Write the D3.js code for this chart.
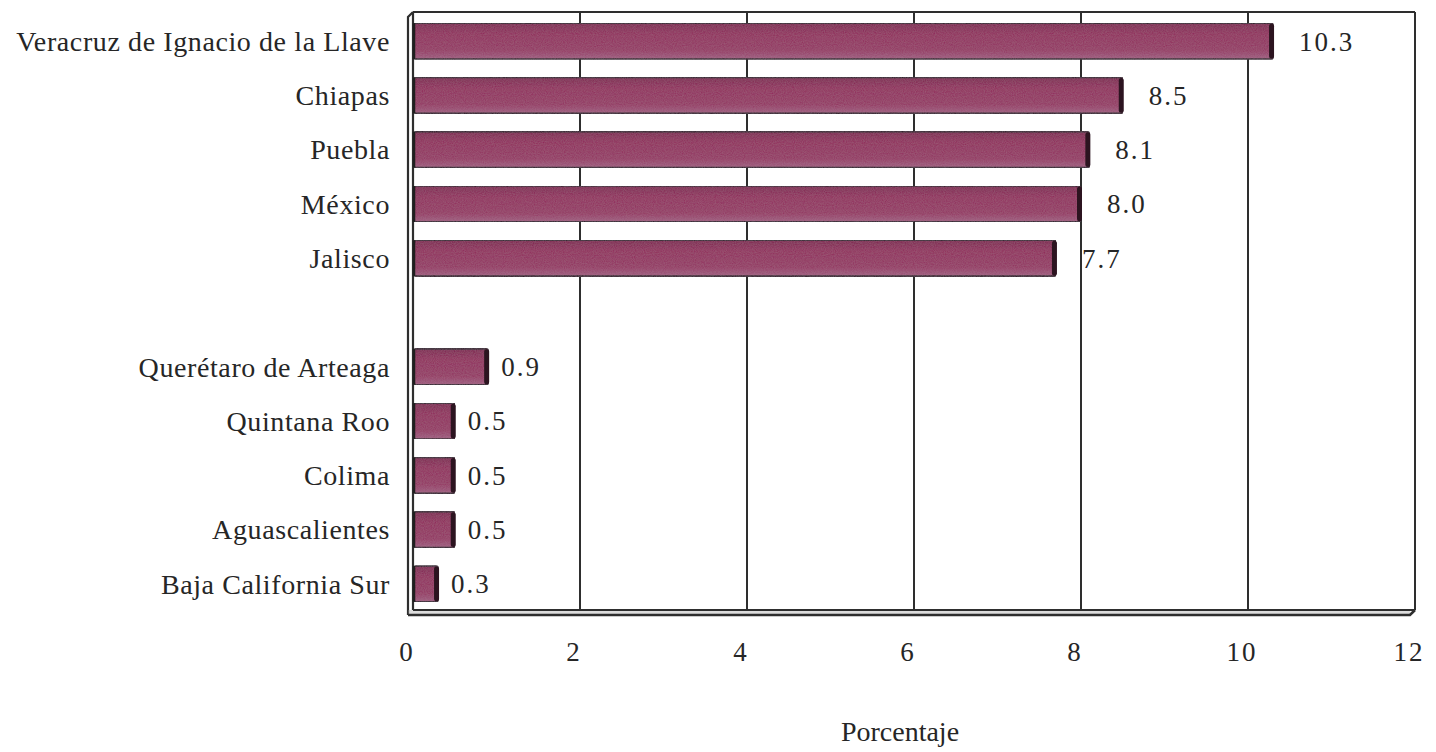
<!DOCTYPE html>
<html>
<head>
<meta charset="utf-8">
<script src="https://cdn.jsdelivr.net/npm/d3@7"></script>
<style>
  html, body { margin: 0; padding: 0; background: #ffffff; }
  svg { display: block; }
  text { font-family: "Liberation Serif", "Times New Roman", serif; fill: #262626; }
</style>
</head>
<body>
<svg id="chart" width="1436" height="752"></svg>
<script>
// Entidades federativas con mayor y menor porcentaje (un hueco separa los dos grupos)
const states = [
  "Veracruz de Ignacio de la Llave", "Chiapas", "Puebla", "México", "Jalisco",
  "",
  "Querétaro de Arteaga", "Quintana Roo", "Colima", "Aguascalientes", "Baja California Sur"
];
const percents = [10.3, 8.5, 8.1, 8.0, 7.7, null, 0.9, 0.5, 0.5, 0.5, 0.3];
const xTicks = [0, 2, 4, 6, 8, 10, 12];
const axisTitle = "Porcentaje";

const svg = d3.select("#chart");
const depth = 5;               // offset of the front edges of the 3D box
const plot = { left: 413, right: 1415, top: 12, bottom: 610 };

const x = d3.scaleLinear().domain([0, 12]).range([plot.left, plot.right]);
const y = d3.scaleBand().domain(states.map((s, i) => i)).range([plot.top + 2, plot.bottom + 1]).paddingInner(0.34).paddingOuter(0.17);

const defs = svg.append("defs");
const grad = defs.append("linearGradient").attr("id", "barFill").attr("x1", 0).attr("y1", 0).attr("x2", 0).attr("y2", 1);
grad.append("stop").attr("offset", "0%").attr("stop-color", "#7c1c4b");
grad.append("stop").attr("offset", "30%").attr("stop-color", "#902859");
grad.append("stop").attr("offset", "75%").attr("stop-color", "#93325f");
grad.append("stop").attr("offset", "100%").attr("stop-color", "#9e5a7c");

// fine print-like grain on the bars
const grain = defs.append("filter").attr("id", "grain").attr("x", 0).attr("y", 0).attr("width", 1).attr("height", 1);
grain.append("feTurbulence").attr("type", "fractalNoise").attr("baseFrequency", 0.9).attr("numOctaves", 2).attr("seed", 3).attr("result", "noise");
grain.append("feColorMatrix").attr("in", "noise").attr("type", "matrix")
  .attr("values", "0 0 0 0 0.55  0 0 0 0 0.45  0 0 0 0 0.55  0 0 0 0.18 0").attr("result", "tint");
grain.append("feComposite").attr("in", "tint").attr("in2", "SourceGraphic").attr("operator", "in").attr("result", "tinted");
grain.append("feMerge").selectAll("feMergeNode").data(["SourceGraphic", "tinted"]).join("feMergeNode").attr("in", d => d);

const line = "#2e2e2e";

// back-wall vertical grid lines
svg.append("g").selectAll("line").data(xTicks.slice(1)).join("line")
  .attr("x1", d => x(d)).attr("x2", d => x(d))
  .attr("y1", plot.top).attr("y2", plot.bottom)
  .attr("stroke", line).attr("stroke-width", 2);

// top edge of the back wall
svg.append("line").attr("x1", plot.left).attr("x2", plot.right).attr("y1", plot.top).attr("y2", plot.top)
  .attr("stroke", line).attr("stroke-width", 2.2);

// left wall (back line, front line, corner)
const frame = svg.append("g").attr("fill", "none").attr("stroke", line).attr("stroke-width", 2.2);
frame.append("line").attr("x1", plot.left).attr("x2", plot.left).attr("y1", plot.top).attr("y2", plot.bottom);
frame.append("path").attr("d", `M${plot.left},${plot.top} L${plot.left - depth},${plot.top + depth} L${plot.left - depth},${plot.bottom + depth}`);

// floor (back edge, front edge, right corner)
frame.append("rect").attr("x", plot.left - depth).attr("y", plot.bottom).attr("width", plot.right - plot.left).attr("height", depth)
  .attr("fill", "#9a9a9a").attr("stroke", "none").attr("opacity", 0.35);
frame.append("line").attr("x1", plot.left).attr("x2", plot.right).attr("y1", plot.bottom).attr("y2", plot.bottom);
frame.append("path").attr("d", `M${plot.left - depth},${plot.bottom + depth} L${plot.right - depth},${plot.bottom + depth} L${plot.right},${plot.bottom}`)
  .attr("stroke-width", 2.6);

// bars
const rows = states.map((s, i) => ({ name: s, value: percents[i], i })).filter(d => d.value != null);
const bars = svg.append("g");
bars.selectAll("rect.bar").data(rows).join("rect").attr("class", "bar")
  .attr("x", x(0) + 1).attr("y", d => y(d.i))
  .attr("width", d => x(d.value) - x(0) - 1).attr("height", y.bandwidth())
  .attr("fill", "url(#barFill)").attr("filter", "url(#grain)")
  .attr("stroke", "#2a1820").attr("stroke-width", 1.6).attr("rx", 2);
// dark rounded end caps
bars.selectAll("rect.cap").data(rows).join("rect").attr("class", "cap")
  .attr("x", d => x(d.value) - 4).attr("y", d => y(d.i) + 0.5)
  .attr("width", 5).attr("height", y.bandwidth() - 1)
  .attr("fill", "#2c1420").attr("rx", 2.5);
// left edge of each bar against the wall
bars.selectAll("line.edge").data(rows).join("line").attr("class", "edge")
  .attr("x1", x(0) + 1).attr("x2", x(0) + 1)
  .attr("y1", d => y(d.i)).attr("y2", d => y(d.i) + y.bandwidth())
  .attr("stroke", "#1f1f1f").attr("stroke-width", 2.5);

// value labels
svg.append("g").selectAll("text").data(rows).join("text")
  .attr("x", d => x(d.value) + (d.value > 5 ? 26 : 13))
  .attr("y", d => y(d.i) + y.bandwidth() / 2)
  .attr("dy", "0.35em")
  .attr("font-size", 27).attr("letter-spacing", 2)
  .text(d => d.value.toFixed(1));

// category labels
svg.append("g").selectAll("text").data(rows).join("text")
  .attr("x", 390).attr("y", d => y(d.i) + y.bandwidth() / 2)
  .attr("dy", "0.35em").attr("text-anchor", "end")
  .attr("font-size", 28).attr("letter-spacing", 0.6)
  .text(d => d.name);

// x axis tick labels
svg.append("g").selectAll("text").data(xTicks).join("text")
  .attr("x", d => x(d) - 6).attr("y", 652).attr("dy", "0.35em")
  .attr("text-anchor", "middle").attr("font-size", 27).attr("letter-spacing", 2)
  .text(d => d);

// axis title
svg.append("text").attr("x", 900).attr("y", 741)
  .attr("text-anchor", "middle").attr("font-size", 28)
  .text(axisTitle);
</script>
</body>
</html>
